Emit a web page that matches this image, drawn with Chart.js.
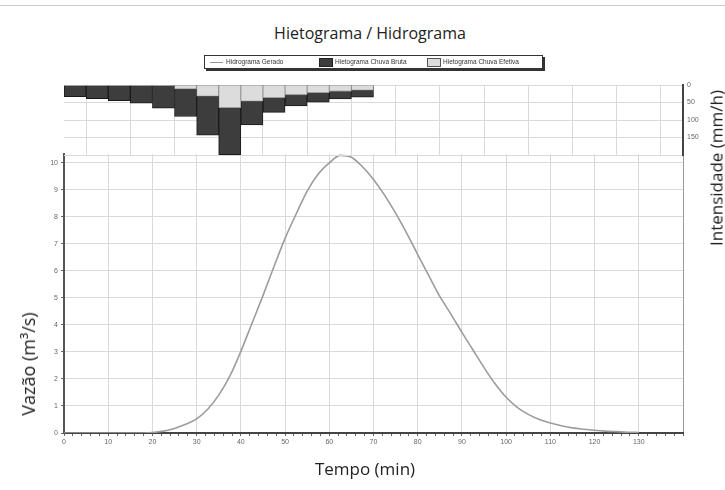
<!DOCTYPE html>
<html><head><meta charset="utf-8">
<script src="https://cdn.jsdelivr.net/npm/chart.js@4.4.1/dist/chart.umd.min.js"></script>
<style>
body{margin:0;width:725px;height:490px;background:#fff;position:relative;overflow:hidden;font-family:'Open Sans',sans-serif;}
canvas{position:absolute;left:0;top:0;}
.topline{position:absolute;left:0;top:5px;width:725px;height:1px;background:#cfcfcf;}
#title{position:absolute;top:22px;left:0;width:740px;text-align:center;font-size:16px;color:#222;}
#legend{position:absolute;left:204px;top:55px;width:337px;height:12px;border:1px solid #333;box-shadow:2px 2px 0 #333;background:#fff;font-family:'Liberation Sans',sans-serif;font-size:6.5px;color:#333;z-index:5;}
#legend .it{position:absolute;top:2px;white-space:nowrap;}
#legend .ln{position:absolute;top:6px;width:13px;height:1px;background:#999;}
#legend .bx{position:absolute;top:2px;width:12px;height:7px;}
.axt{position:absolute;font-size:17px;color:#222;white-space:nowrap;z-index:5;}
#ytl{left:28px;top:364px;font-size:18px;transform:translate(-50%,-50%) rotate(-90deg);}
#ytr{left:716px;top:168px;transform:translate(-50%,-50%) rotate(-90deg);}
#xt{left:365px;top:468px;transform:translate(-50%,-50%);}
</style></head>
<body>
<div class="topline"></div>
<div id="title">Hietograma / Hidrograma</div>
<div id="legend">
  <span class="ln" style="left:5px"></span><span class="it" style="left:21px">Hidrograma Gerado</span>
  <span class="bx" style="left:114px;background:#3d3d3d;border:1px solid #222"></span><span class="it" style="left:130px">Hietograma Chuva Bruta</span>
  <span class="bx" style="left:222px;background:#dcdcdc;border:1px solid #555"></span><span class="it" style="left:238px">Hietograma Chuva Efetiva</span>
</div>
<canvas id="cQ" width="725" height="490"></canvas>
<canvas id="cP" width="725" height="490"></canvas>
<div class="axt" id="ytl">Vazão (m³/s)</div>
<div class="axt" id="ytr">Intensidade (mm/h)</div>
<div class="axt" id="xt">Tempo (min)</div>
<script>
// ---- data ----
const rainTimes = [2.5, 7.5, 12.5, 17.5, 22.5, 27.5, 32.5, 37.5, 42.5, 47.5, 52.5, 57.5, 62.5, 67.5];
const chuvaBruta = [33, 39, 45, 52, 66, 90, 143, 199, 114, 78, 60, 49, 40, 35];
const chuvaEfetiva = [0, 0, 0, 0, 0, 11, 32, 65, 46, 36, 28, 22, 18, 15];
const hydroTimes = [0, 5, 10, 15, 20, 22.5, 25, 27.5, 30, 32.5, 35, 37.5, 40, 42.5, 45, 47.5, 50, 52.5, 55, 57.5, 60, 62.5, 65, 67.5, 70, 72.5, 75, 77.5, 80, 82.5, 85, 87.5, 90, 92.5, 95, 97.5, 100, 102.5, 105, 107.5, 110, 112.5, 115, 117.5, 120, 122.5, 125, 127.5, 130];
const vazao = [0, 0, 0, 0, 0.02, 0.07, 0.17, 0.32, 0.52, 0.88, 1.40, 2.10, 3.02, 4.05, 5.08, 6.16, 7.2, 8.1, 8.95, 9.58, 9.99, 10.27, 10.2, 9.85, 9.38, 8.8, 8.13, 7.39, 6.6, 5.82, 5.05, 4.4, 3.72, 3.07, 2.42, 1.82, 1.32, 0.95, 0.69, 0.5, 0.37, 0.27, 0.19, 0.14, 0.10, 0.07, 0.05, 0.03, 0.02];
const xTicksLabels = [0, 10, 20, 30, 40, 50, 60, 70, 80, 90, 100, 110, 120, 130];
const rainTickLabels = [0, 50, 100, 150];

const GRID = '#dadada';
const tickFont = {family:'Liberation Sans', size:7};

// ---- hydrograph chart ----
new Chart(document.getElementById('cQ'), {
  type: 'line',
  data: { datasets: [{
    label: 'Hidrograma Gerado',
    data: hydroTimes.map((t, i) => ({x: t, y: vazao[i]})),
    borderColor: '#9c9c9c', borderWidth: 1.6, pointRadius: 0,
    cubicInterpolationMode: 'monotone', fill: false
  }]},
  options: {
    responsive: false, animation: false,
    layout: {padding: {left: 0, right: 42, top: 154, bottom: 37}},
    plugins: {legend: {display: false}, tooltip: {enabled: false}},
    scales: {
      x: {
        type: 'linear', min: 0, max: 140, offset: false,
        ticks: {stepSize: 2, autoSkip: false, maxRotation: 0, font: tickFont, color: '#666', padding: 2,
          callback: v => xTicksLabels.includes(v) ? String(v) : ''},
        grid: {
          color: c => (c.tick && c.tick.value === 140) ? '#9a9a9a' : ((c.tick && c.tick.value % 10 === 0) ? GRID : 'rgba(0,0,0,0)'),
          tickColor: '#666', tickLength: 3
        },
        border: {color: '#444', width: 2},
        afterFit: s => { s.height = 20; }
      },
      y: {
        type: 'linear', min: 0, max: 10.32,
        ticks: {stepSize: 1, includeBounds: false, font: tickFont, color: '#666', padding: 3},
        grid: {color: GRID, tickColor: '#666', tickLength: 3},
        border: {color: '#555', width: 2},
        afterFit: s => { s.width = 64; }
      }
    }
  }
});

// ---- hyetograph chart ----
new Chart(document.getElementById('cP'), {
  type: 'bar',
  data: { datasets: [
    {
      label: 'Hietograma Chuva Efetiva',
      data: rainTimes.map((t, i) => ({x: t, y: chuvaEfetiva[i]})),
      backgroundColor: '#dcdcdc', borderColor: '#8a8a8a', borderWidth: 0.8,
      barPercentage: 1, categoryPercentage: 1, grouped: false, order: 0
    },
    {
      label: 'Hietograma Chuva Bruta',
      data: rainTimes.map((t, i) => ({x: t, y: chuvaBruta[i]})),
      backgroundColor: '#3d3d3d', borderColor: '#1a1a1a', borderWidth: 1,
      barPercentage: 1, categoryPercentage: 1, grouped: false, order: 1
    }
  ]},
  options: {
    responsive: false, animation: false,
    layout: {padding: {left: 64, right: 0, top: 85, bottom: 335}},
    plugins: {legend: {display: false}, tooltip: {enabled: false}},
    scales: {
      x: {
        type: 'linear', min: 0, max: 140, offset: false,
        ticks: {display: false, stepSize: 10},
        grid: {color: GRID, drawTicks: false},
        border: {display: false},
        afterFit: s => { s.height = 0; }
      },
      y: {
        type: 'linear', position: 'right', reverse: true, min: 0, max: 200,
        ticks: {stepSize: 50, font: tickFont, color: '#666', padding: 4,
          callback: v => rainTickLabels.includes(v) ? String(v) : ''},
        grid: {color: GRID, drawTicks: false},
        border: {color: '#444', width: 2},
        afterFit: s => { s.width = 42; }
      }
    }
  }
});
</script>
</body></html>
